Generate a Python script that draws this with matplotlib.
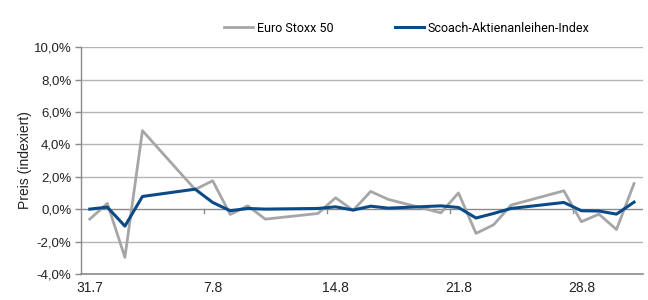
import matplotlib
matplotlib.use("Agg")
import matplotlib.pyplot as plt
import matplotlib.dates as mdates
from matplotlib.ticker import FuncFormatter
import datetime as dt

plt.rcParams['font.family'] = ['Liberation Sans', 'DejaVu Sans']

dates = ["2012-07-31", "2012-08-01", "2012-08-02", "2012-08-03", "2012-08-06",
         "2012-08-07", "2012-08-08", "2012-08-09", "2012-08-10", "2012-08-13",
         "2012-08-14", "2012-08-15", "2012-08-16", "2012-08-17", "2012-08-20",
         "2012-08-21", "2012-08-22", "2012-08-23", "2012-08-24", "2012-08-27",
         "2012-08-28", "2012-08-29", "2012-08-30", "2012-08-31"]
euro_stoxx = [-0.62, 0.35, -2.98, 4.84, 1.21, 1.75, -0.33, 0.20, -0.62, -0.27,
              0.70, -0.08, 1.09, 0.60, -0.23, 1.00, -1.50, -0.97, 0.25, 1.13,
              -0.78, -0.31, -1.26, 1.58]
scoach = [0.00, 0.12, -1.05, 0.78, 1.23, 0.41, -0.10, 0.04, 0.00, 0.04,
          0.14, -0.06, 0.18, 0.06, 0.20, 0.10, -0.55, -0.27, 0.04, 0.41,
          -0.10, -0.12, -0.31, 0.43]
tick_labels = ["31.7", "7.8", "14.8", "21.8", "28.8"]
tick_dates = ["2012-07-31", "2012-08-07", "2012-08-14", "2012-08-21", "2012-08-28"]
series_names = ["Euro Stoxx 50", "Scoach-Aktienanleihen-Index"]

x = [mdates.date2num(dt.datetime.strptime(d, "%Y-%m-%d")) for d in dates]
tx = [mdates.date2num(dt.datetime.strptime(d, "%Y-%m-%d")) for d in tick_dates]

fig = plt.figure(figsize=(6.48, 3.0), dpi=100)
ax = fig.add_axes([0.125, 0.087, 0.867, 0.756])

grid_c = "#b4b4b4"
for yv in range(-2, 11, 2):
    if yv == 0:
        continue
    ax.axhline(yv, color=grid_c, lw=1.0, zorder=1)
ax.axhline(0, color="#8a8a8a", lw=1.0, zorder=1)
ax.axhline(-4, color="#8a8a8a", lw=1.2, zorder=1, clip_on=False)

l1, = ax.plot(x, euro_stoxx, color="#a6a6a6", lw=2.0, zorder=3, label=series_names[0])
l2, = ax.plot(x, scoach, color="#0a4b87", lw=2.2, zorder=4, label=series_names[1])

x0 = x[0] - 0.5
x1 = x[-1] + 0.5
ax.set_xlim(x0, x1)
ax.set_ylim(-4, 10)

# small tick marks on the zero line between weeks
for k in range(1, 5):
    xt = x0 + 7 * k
    ax.plot([xt, xt], [-0.22, 0], color="#8a8a8a", lw=1.0, zorder=2)

ax.set_xticks(tx)
ax.set_xticklabels(tick_labels)
ax.tick_params(axis='x', length=0, pad=5, labelsize=10, colors="#222222")
ax.set_yticks(range(-4, 11, 2))
ax.yaxis.set_major_formatter(FuncFormatter(lambda v, p: f"{v:.1f}%".replace(".", ",")))
ax.tick_params(axis='y', length=4, width=1.0, color="#8a8a8a", pad=3, labelsize=9.5, labelcolor="#222222")

for s in ["top", "right", "bottom"]:
    ax.spines[s].set_visible(False)
ax.spines["left"].set_color("#8a8a8a")
ax.spines["left"].set_linewidth(1.0)

ax.set_ylabel("Preis (indexiert)", fontsize=10, color="#222222", labelpad=1)

fig.legend(handles=[l1, l2], loc="upper left", bbox_to_anchor=(0.328, 0.965), ncol=2,
           frameon=False, prop={'family': ['Roboto', 'DejaVu Sans'], 'size': 9},
           handlelength=2.3, handletextpad=0.35, columnspacing=4.9)

fig.savefig("out.png", dpi=100)
